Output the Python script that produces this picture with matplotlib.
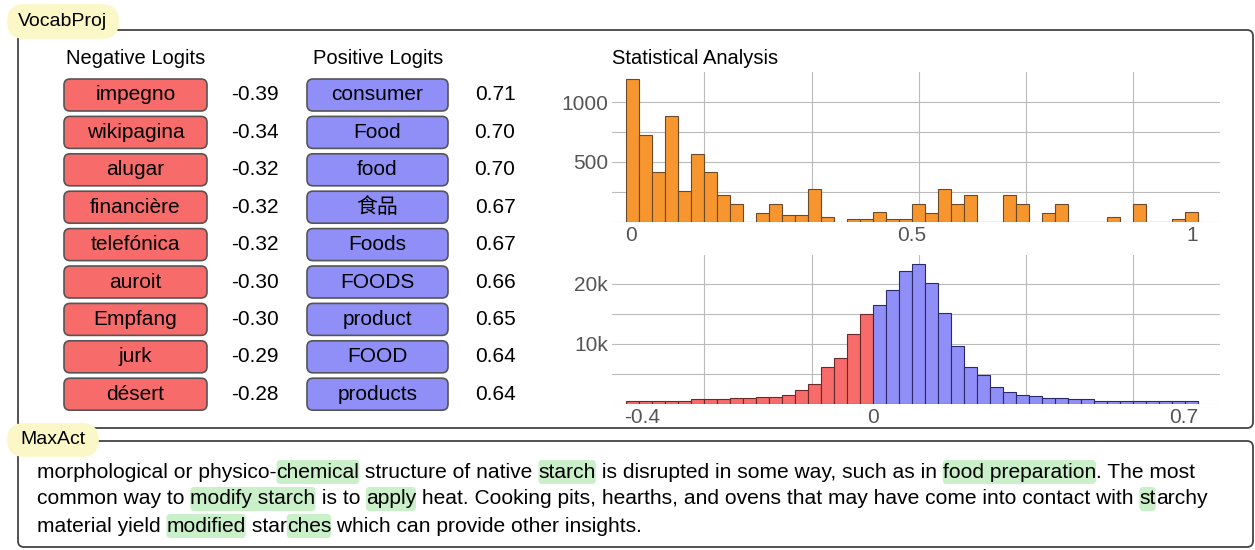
import numpy as np
import matplotlib.pyplot as plt
from matplotlib.patches import FancyBboxPatch

plt.rcParams['font.family'] = ['Liberation Sans', 'Noto Sans CJK SC', 'DejaVu Sans']

# data
neg_tokens = ['impegno', 'wikipagina', 'alugar', 'financière', 'telefónica', 'auroit', 'Empfang', 'jurk', 'désert']
neg_logits = [-0.39, -0.34, -0.32, -0.32, -0.32, -0.30, -0.30, -0.29, -0.28]
pos_tokens = ['consumer', 'Food', 'food', '食品', 'Foods', 'FOODS', 'product', 'FOOD', 'products']
pos_logits = [0.71, 0.70, 0.70, 0.67, 0.67, 0.66, 0.65, 0.64, 0.64]

act_counts = [1190, 728, 417, 883, 258, 569, 417, 228, 153, 0, 75, 153, 61, 61, 278, 42, 0, 22, 22, 83, 22, 22,
              153, 75, 278, 153, 228, 0, 0, 228, 153, 0, 75, 153, 0, 0, 0, 42, 0, 153, 0, 0, 22, 83]
neg_counts_k = [0.55, 0.55, 0.55, 0.55, 0.55, 0.77, 0.77, 0.77, 0.93, 0.93, 1.2, 1.2, 1.5, 2.3, 3.4, 6.2, 7.6, 11.6, 14.9]
pos_counts_k = [16.5, 18.9, 22.2, 23.3, 20.1, 15.1, 9.7, 6.2, 4.8, 2.9, 2.0, 1.5, 1.3, 1.0, 1.0, 0.8, 0.8,
                0.55, 0.55, 0.55, 0.55, 0.55, 0.55, 0.55, 0.55]

text_lines = [
    [('morphological or physico-', 0), ('chemical', 1), (' structure of native ', 0), ('starch', 1),
     (' is disrupted in some way, such as in ', 0), ('food preparation', 1), ('. The most', 0)],
    [('common way to ', 0), ('modify starch', 1), (' is to ', 0), ('apply', 1),
     (' heat. Cooking pits, hearths, and ovens that may have come into contact with ', 0), ('st', 1), ('archy', 0)],
    [('material yield ', 0), ('modified', 1), (' star', 0), ('ches', 1), (' which can provide other insights.', 0)],
]

RED = '#f76b6b'
BLUE = '#8f8ff7'
ORANGE = '#f7962f'
GREEN = '#c9f0c9'
FS = 15

W, H = 1255, 550
fig = plt.figure(figsize=(W / 100, H / 100), dpi=100)
bg = fig.add_axes([0, 0, 1, 1])
bg.set_xlim(0, W)
bg.set_ylim(H, 0)
bg.axis('off')


def rbox(x0, y0, x1, y1, fc, ec, lw=1.2, r=6, z=1):
    bg.add_patch(FancyBboxPatch((x0, y0), x1 - x0, y1 - y0, boxstyle='round,pad=0,rounding_size=%d' % r,
                                fc=fc, ec=ec, lw=lw, zorder=z))


# frames
rbox(18, 30, 1253, 428, 'white', '#444444', lw=1.3)
rbox(18, 441, 1253, 547, 'white', '#444444', lw=1.3)
rbox(8, 5, 118, 38, '#fbf7c6', '#fbf7c6', r=16, z=2)
bg.text(63, 22, 'VocabProj', ha='center', va='center', fontsize=14, zorder=3)
rbox(8, 424, 98, 456, '#fbf7c6', '#fbf7c6', r=16, z=2)
bg.text(53, 440, 'MaxAct', ha='center', va='center', fontsize=14, zorder=3)

# logit tables
bg.text(136, 58, 'Negative Logits', ha='center', va='center', fontsize=FS - 0.5)
bg.text(378, 58, 'Positive Logits', ha='center', va='center', fontsize=FS - 0.5)
bg.text(612, 58, 'Statistical Analysis', ha='left', va='center', fontsize=FS - 0.5)
for i in range(len(neg_tokens)):
    yc = 95 + i * 37.4
    rbox(64, yc - 16, 207, yc + 16, RED, '#555555')
    bg.text(135.5, yc, neg_tokens[i], ha='center', va='center', fontsize=FS)
    bg.text(255, yc, '%.2f' % neg_logits[i], ha='center', va='center', fontsize=FS)
    rbox(307, yc - 16, 448, yc + 16, BLUE, '#555555')
    bg.text(377.5, yc, pos_tokens[i], ha='center', va='center', fontsize=FS)
    bg.text(495, yc, '%.2f' % pos_logits[i], ha='center', va='center', fontsize=FS)


def px_axes(x0, y0, x1, y1):
    return fig.add_axes([x0 / W, 1 - y1 / H, (x1 - x0) / W, (y1 - y0) / H])


def style(ax):
    for s in ax.spines.values():
        s.set_visible(False)
    ax.tick_params(length=0, colors='#555555', labelsize=FS, pad=3)
    ax.set_axisbelow(True)
    ax.grid(axis='y', color='#bbbbbb', lw=0.8)


grid_frac = [(p - 612) / 608 for p in [704, 812, 919, 1026, 1133]]

# top histogram
ax1 = px_axes(612, 72, 1220, 222)
n1 = len(act_counts)
edges1 = np.linspace(-0.0085, 1.011, n1 + 1)
ax1.bar(edges1[:-1], act_counts, width=edges1[1] - edges1[0], align='edge', color=ORANGE, ec='#6b4a2a', lw=0.8)
ax1.set_xlim(-0.034, 1.05)
ax1.set_ylim(0, 1250)
ax1.set_yticks([0, 250, 500, 750, 1000])
ax1.set_yticklabels(['', '', '500', '', '1000'])
ax1.set_xticks([0, 0.5, 1])
ax1.set_xticklabels(['0', '0.5', '1'])
style(ax1)
for g in grid_frac:
    ax1.axvline(ax1.get_xlim()[0] + g * (ax1.get_xlim()[1] - ax1.get_xlim()[0]), color='#bbbbbb', lw=0.8, zorder=0)

# bottom histogram
ax2 = px_axes(612, 255, 1220, 404)
nn, npos = len(neg_counts_k), len(pos_counts_k)
ax2.bar(np.arange(-nn, 0), neg_counts_k, width=1, align='edge', color=RED, ec='#6b2a2a', lw=0.8)
ax2.bar(np.arange(0, npos), pos_counts_k, width=1, align='edge', color=BLUE, ec='#2a2a6b', lw=0.8)
ax2.set_xlim(-20.1, 26.7)
ax2.set_ylim(0, 24.8)
ax2.set_yticks([0, 5, 10, 15, 20])
ax2.set_yticklabels(['', '', '10k', '', '20k'])
ax2.set_xticks([-17.8, 0, 23.9])
ax2.set_xticklabels(['-0.4', '0', '0.7'])
style(ax2)
for g in grid_frac:
    ax2.axvline(-20.1 + g * 46.8, color='#bbbbbb', lw=0.8, zorder=0)

# MaxAct text with highlights
fig.canvas.draw()
r = fig.canvas.get_renderer()
inv = bg.transData.inverted()
for li, line in enumerate(text_lines):
    x = 37
    y = 472 + li * 27
    for piece, hl in line:
        t = bg.text(x, y, piece, ha='left', va='center', fontsize=FS + 0.1, zorder=3)
        bb = t.get_window_extent(r)
        (xa, _), (xb, _) = inv.transform([[bb.x0, bb.y0], [bb.x1, bb.y1]])
        if hl:
            bg.add_patch(FancyBboxPatch((xa, y - 12), xb - xa, 24, boxstyle='round,pad=0,rounding_size=4',
                                        fc=GREEN, ec='none', zorder=2))
        x = xb

fig.savefig('out.png', dpi=100)
